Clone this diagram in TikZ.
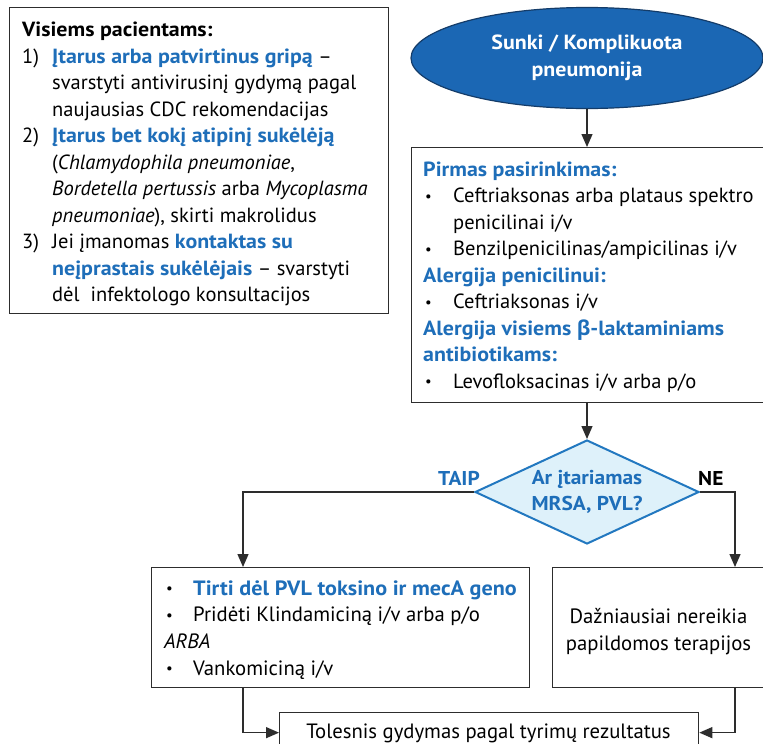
\documentclass[tikz,border=0pt]{standalone}
\usepackage{graphicx}
\usepackage{fontspec}
\setmainfont{PT Sans}[UprightFeatures={FakeStretch=1.0}, ItalicFeatures={FakeStretch=1.0}, BoldFeatures={FakeStretch=1.07}]
\newfontfamily\grk{Open Sans}
\usetikzlibrary{shapes.geometric,arrows.meta}
\definecolor{tblue}{RGB}{30,110,185}
\definecolor{eblue}{RGB}{27,103,180}
\definecolor{eedge}{RGB}{20,60,105}
\definecolor{dfill}{RGB}{222,241,250}
\definecolor{dedge}{RGB}{34,120,192}
\definecolor{ln}{RGB}{45,45,45}
\newcommand{\bl}[1]{\textcolor{tblue}{\textbf{#1}}}
\newcommand{\numi}[1]{\makebox[30pt][l]{#1}}
\newcommand{\indt}{\hspace*{30pt}}
\newcommand{\dotb}{\raisebox{1.6pt}{\scalebox{0.72}{\textbullet}}}
\newcommand{\bul}{\makebox[30pt][l]{\hspace{2pt}\dotb}}
\newcommand{\indb}{\hspace*{30pt}}
\newcommand{\bulb}{\makebox[29pt][l]{\hspace{2pt}\dotb}}
\begin{document}
\begin{tikzpicture}[x=1pt,y=-1pt,
  box/.style={draw=ln, line width=1.3pt, rectangle, inner sep=0pt, anchor=north west},
  txt/.style={inner sep=0pt, anchor=north west, align=left, text=black},
  arr/.style={draw=ln, line width=1.3pt, -{Triangle[length=13pt,width=11pt]}},
  topfont/.style={font=\fontsize{20.5}{26.5}\selectfont},
  botfont/.style={font=\fontsize{20.7}{26.7}\selectfont}]
\useasboundingbox (0,0) rectangle (763,744);
\fill[white] (0,0) rectangle (763,744);

% top-left info box
\node[box, minimum width=379pt, minimum height=306pt] (tl) at (9,7) {};
\node[txt, topfont] (tltext) at (22,18.2) {\strut\textbf{Visiems pacientams:}\\
\numi{1)}\bl{Įtarus arba patvirtinus gripą} –\\
\indt svarstyti antivirusinį gydymą pagal\\
\indt naujausias CDC rekomendacijas\\
\numi{2)}\bl{Įtarus bet kokį atipinį sukėlėją}\\
\indt (\textit{Chlamydophila pneumoniae},\\
\indt \textit{Bordetella pertussis} arba \textit{Mycoplasma}\\
\indt \textit{pneumoniae}), skirti makrolidus\\
\numi{3)}Jei įmanomas \bl{kontaktas su}\\
\indt \bl{neįprastais sukėlėjais} – svarstyti\\
\indt dėl\ \ infektologo konsultacijos};

% ellipse
\node[ellipse, draw=eedge, line width=1.2pt, fill=eblue, minimum width=352pt, minimum height=101pt, inner sep=0pt,
  text=white, align=center, font=\bfseries\fontsize{20.5}{26.5}\selectfont] (ell) at (587,58)
  {Sunki / Komplikuota\\pneumonija};

% right treatment box
\node[box, minimum width=354pt, minimum height=255pt] (rb) at (411,147) {};
\node[txt, topfont] (rbtext) at (423,157.6) {\strut\bl{Pirmas pasirinkimas:}\\
\bul Ceftriaksonas arba plataus spektro\\
\indb penicilinai i/v\\
\bul Benzilpenicilinas/ampicilinas i/v\\
\bl{Alergija penicilinui:}\\
\bul Ceftriaksonas i/v\\
\bl{Alergija visiems {\grk β}-laktaminiams}\\
\bl{antibiotikams:}\\
\bul Levofloksacinas i/v arba p/o};

% diamond
\node[diamond, draw=dedge, line width=2pt, fill=dfill, aspect=2.15, minimum width=224pt, minimum height=104pt,
  inner sep=0pt, align=center, text=tblue, font=\bfseries\fontsize{20}{26}\selectfont] (dia) at (587,492)
  {Ar įtariamas\\MRSA, PVL?};
\node[inner sep=0pt, anchor=base east, text=tblue, font=\bfseries\fontsize{20}{26}\selectfont] (taip) at (480,485) {TAIP};
\node[inner sep=0pt, anchor=base west, text=black, font=\bfseries\fontsize{20}{26}\selectfont] (ne) at (698,485) {NE};

% bottom boxes
\node[box, minimum width=378pt, minimum height=120pt] (lb) at (151,567) {};
\node[txt, botfont] (lbtext) at (164,576.3) {\strut\bulb\bl{Tirti dėl PVL toksino ir mecA geno}\\
\bulb Pridėti Klindamiciną i/v arba p/o\\
\textit{ARBA}\\
\bulb Vankomiciną i/v};

\node[box, minimum width=213pt, minimum height=120pt] (rbb) at (552,567) {};
\node[inner sep=0pt, anchor=north, align=center, font=\fontsize{20.7}{27}\selectfont] (rbbtext) at (658.5,604.1)
  {\strut Dažniausiai nereikia\\papildomos terapijos};

\node[box, minimum width=419pt, minimum height=40pt] (bot) at (279,712) {};
\node[inner sep=0pt, anchor=base, font=\fontsize{20.7}{27}\selectfont] (bottext) at (488.5,738)
  {Tolesnis gydymas pagal tyrimų rezultatus};

% connectors
\draw[arr] (ell.south) -- (ell.south |- rb.north);
\draw[arr] (rb.south -| dia.north) -- (dia.north);
\draw[arr] (dia.west) -| ([xshift=92pt]lb.north west);
\draw[arr] (dia.east) -| ([xshift=183pt]rbb.north west);
\draw[arr] ([xshift=92pt]lb.south west) |- (bot.west);
\draw[arr] ([xshift=183pt]rbb.south west) |- (bot.east);
\end{tikzpicture}
\end{document}
